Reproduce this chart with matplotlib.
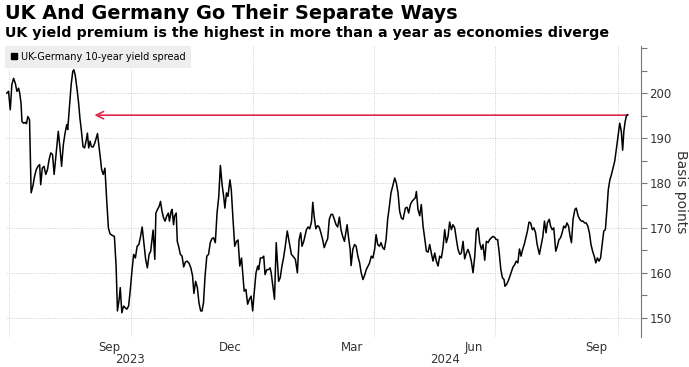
import pandas as pd
import matplotlib
matplotlib.use("Agg")
import matplotlib.pyplot as plt
from matplotlib.lines import Line2D
from matplotlib.ticker import MultipleLocator, FixedLocator

# UK-Germany 10-year yield spread
# day_offset = days since 2023-10-01, spread in basis points
day_offset = [
    -93.4, -92.1, -90.8, -89.6, -88.3, -87.0, -85.8, -84.5, -83.7, -82.7,
    -82.0, -80.7, -79.4, -78.6, -77.6, -76.3, -75.1, -73.8, -72.5, -71.2,
    -70.0, -68.7, -67.9, -66.7, -65.4, -64.1, -62.8, -61.6, -60.3, -59.0,
    -57.8, -56.5, -54.7, -53.4, -52.2, -50.9, -49.6, -48.3, -47.6, -46.3,
    -45.0, -43.8, -43.0, -42.0, -40.5, -39.4, -38.4, -37.4, -36.1, -34.9,
    -33.6, -32.8, -31.8, -30.8, -29.8, -28.5, -27.2, -26.0, -25.2, -24.2,
    -22.9, -22.1, -20.9, -19.6, -18.3, -17.0, -15.8, -14.5, -12.5, -11.2,
    -10.2, -8.9, -8.1, -6.9, -5.6, -4.3, -3.1, -1.8, -0.5, 0.8,
    2.0, 3.3, 4.6, 5.9, 7.2, 8.4, 9.7, 11.0, 12.3, 13.6,
    14.8, 16.6, 17.9, 18.7, 19.9, 21.2, 22.2, 23.3, 24.5, 25.6,
    26.8, 28.1, 28.9, 30.2, 30.9, 32.0, 32.7, 34.0, 34.8, 35.8,
    37.1, 38.4, 39.6, 40.9, 42.2, 43.7, 45.0, 46.3, 47.3, 48.6,
    49.9, 51.1, 52.4, 53.4, 54.5, 55.7, 57.0, 58.3, 59.6, 60.8,
    62.1, 63.4, 64.7, 66.0, 67.2, 68.5, 69.8, 70.6, 71.8, 72.9,
    74.4, 75.4, 76.7, 78.0, 79.3, 80.5, 81.8, 83.1, 84.4, 85.1,
    86.4, 87.7, 89.0, 90.3, 91.5, 92.3, 94.0, 95.3, 96.0, 97.3,
    98.6, 99.8, 100.8, 102.1, 103.4, 104.6, 105.4, 106.7, 107.9, 109.2,
    111.0, 112.2, 113.5, 114.7, 116.0, 117.5, 119.3, 120.6, 121.8, 123.6,
    125.1, 126.4, 127.6, 128.6, 129.9, 131.9, 133.2, 134.4, 135.7, 136.7,
    137.7, 139.0, 140.3, 141.5, 142.8, 144.1, 145.3, 146.6, 147.9, 149.1,
    150.4, 151.6, 152.9, 154.2, 155.4, 156.7, 157.9, 159.2, 160.5, 161.7,
    162.5, 163.5, 164.8, 165.5, 166.8, 168.1, 169.3, 170.6, 171.9, 173.1,
    174.4, 175.6, 176.9, 178.2, 179.4, 180.7, 181.9, 183.2, 184.3, 185.5,
    186.8, 188.0, 189.3, 190.5, 191.8, 193.0, 194.3, 195.5, 196.8, 198.3,
    199.5, 200.8, 202.0, 203.3, 204.6, 205.8, 206.3, 207.6, 208.8, 210.1,
    211.3, 212.6, 213.8, 214.6, 215.8, 217.1, 218.3, 219.6, 220.8, 222.1,
    223.4, 224.6, 225.9, 227.1, 228.4, 229.6, 230.9, 232.1, 233.4, 234.6,
    235.9, 237.1, 238.4, 239.6, 240.9, 242.1, 243.4, 244.7, 245.9, 247.2,
    248.4, 249.7, 250.9, 252.2, 253.4, 254.7, 255.9, 257.2, 258.5, 259.7,
    261.0, 262.2, 263.5, 264.7, 266.0, 267.2, 268.5, 269.7, 271.0, 272.2,
    273.5, 274.5, 275.7, 276.9, 278.1, 279.3, 280.5, 281.2, 282.4, 283.7,
    284.9, 286.1, 287.3, 288.5, 289.7, 290.9, 292.1, 293.3, 294.5, 295.7,
    296.9, 298.1, 299.3, 300.5, 301.8, 303.0, 304.2, 305.4, 307.1, 308.3,
    309.7, 310.9, 312.1, 313.1, 314.5, 315.5, 316.7, 317.9, 319.4, 320.6,
    321.8, 323.0, 324.2, 325.4, 326.6, 327.8, 329.0, 330.2, 331.2, 332.4,
    333.8, 334.8, 336.3, 337.5, 338.7, 339.9, 341.1, 342.3, 343.5, 344.7,
    345.9, 347.1, 348.3, 349.5, 350.7, 351.9, 353.1, 354.3, 355.5, 356.7,
    357.9, 358.9, 360.1, 361.3, 362.5, 363.7, 364.9, 366.2, 367.5, 368.7,
    369.7, 370.6, 371.6, 372.6, 373.5,
]
spread_bp = [
    200.0, 200.4, 196.3, 201.9, 203.3, 202.2, 200.4, 201.1, 200.0, 197.8,
    193.7, 193.3, 193.5, 193.2, 194.8, 194.1, 177.8, 179.3, 181.5, 183.0,
    183.7, 184.1, 179.6, 183.3, 183.7, 181.9, 183.0, 185.2, 186.7, 186.3,
    181.9, 185.9, 191.5, 187.8, 183.7, 188.5, 191.1, 193.0, 191.9, 197.0,
    201.9, 204.8, 205.2, 204.1, 200.7, 197.8, 194.4, 191.9, 188.1, 187.8,
    189.6, 191.1, 187.8, 189.3, 188.1, 188.0, 188.9, 190.2, 191.0, 188.5,
    185.2, 183.0, 181.9, 183.3, 176.3, 170.0, 168.7, 168.4, 168.1, 161.5,
    151.5, 154.1, 156.7, 151.1, 152.6, 152.2, 151.9, 152.6, 156.3, 160.7,
    164.1, 163.3, 165.9, 166.3, 168.1, 170.2, 166.7, 163.0, 161.1, 164.1,
    164.8, 169.5, 163.0, 173.3, 174.1, 174.8, 175.9, 173.7, 172.2, 171.5,
    172.6, 173.3, 171.5, 173.7, 174.1, 170.7, 172.6, 173.3, 167.0, 165.9,
    164.1, 163.7, 161.3, 162.4, 162.6, 162.1, 161.1, 159.3, 155.4, 158.1,
    156.7, 153.3, 151.5, 151.5, 153.3, 159.3, 163.7, 164.1, 166.7, 167.6,
    167.8, 166.7, 173.3, 177.0, 183.9, 179.6, 176.7, 174.4, 177.8, 177.0,
    180.7, 178.5, 171.9, 165.9, 167.0, 167.3, 161.5, 163.3, 158.5, 155.9,
    156.3, 153.0, 154.1, 154.8, 151.5, 154.4, 160.0, 161.5, 160.7, 163.3,
    163.3, 163.7, 159.6, 160.7, 160.7, 161.1, 160.0, 157.0, 154.1, 166.7,
    158.1, 158.9, 161.5, 163.3, 165.9, 169.3, 166.3, 164.1, 163.7, 163.0,
    160.0, 167.4, 168.9, 165.9, 167.0, 169.6, 170.2, 169.8, 171.3, 175.7,
    172.6, 169.8, 170.5, 170.2, 168.9, 167.4, 165.6, 166.7, 167.6, 171.9,
    173.0, 173.0, 171.9, 170.7, 170.2, 172.4, 169.6, 168.1, 167.0, 169.3,
    170.7, 168.1, 165.2, 161.6, 165.2, 166.3, 165.9, 163.7, 162.2, 160.0,
    158.5, 159.4, 160.7, 161.5, 162.2, 163.7, 163.3, 165.2, 168.5, 166.3,
    165.9, 166.7, 165.6, 165.2, 167.4, 171.9, 174.8, 177.8, 179.3, 181.1,
    180.0, 177.8, 173.7, 172.2, 171.9, 173.7, 174.4, 174.6, 173.3, 175.2,
    175.9, 176.3, 176.7, 178.1, 174.1, 172.7, 175.2, 170.4, 167.8, 164.8,
    164.6, 166.3, 164.3, 162.6, 164.4, 162.6, 161.5, 163.7, 163.3, 165.6,
    169.6, 166.7, 168.1, 171.3, 169.6, 170.7, 170.0, 167.4, 165.2, 164.1,
    164.4, 167.0, 163.1, 164.4, 165.2, 164.1, 162.6, 160.0, 163.7, 169.5,
    170.0, 166.7, 165.2, 166.3, 162.8, 167.0, 166.7, 167.4, 167.8, 168.1,
    167.9, 167.4, 167.4, 164.4, 160.7, 158.9, 158.5, 157.0, 157.4, 158.2,
    159.2, 160.3, 161.3, 161.8, 162.6, 162.2, 165.3, 163.7, 165.2, 166.3,
    167.8, 169.3, 171.3, 171.1, 169.6, 170.0, 168.9, 166.3, 164.1, 165.9,
    168.1, 171.5, 168.9, 171.1, 171.9, 170.4, 169.6, 170.0, 164.8, 165.9,
    167.4, 167.8, 168.9, 170.4, 170.0, 171.1, 170.4, 168.1, 166.7, 171.9,
    174.1, 174.4, 172.6, 171.9, 171.5, 171.5, 171.1, 171.1, 170.4, 168.9,
    166.3, 164.8, 163.7, 162.2, 163.3, 162.6, 163.3, 166.3, 169.3, 169.6,
    174.1, 178.5, 180.7, 181.9, 183.3, 184.8, 187.4, 190.4, 193.3, 191.5,
    187.3, 191.5, 193.7, 195.0, 195.2,
]

# arrow: highest level in more than a year
arrow_level = 195.1
arrow_tip_day = -27.5

y_labeled = [150, 160, 170, 180, 190, 200]
quarter_starts = ["2023-07-01", "2023-10-01", "2024-01-01", "2024-04-01",
                  "2024-07-01", "2024-10-01"]
month_ticks = ["2023-09-15", "2023-12-15", "2024-03-15", "2024-06-15", "2024-09-15"]
month_labels = ["Sep", "Dec", "Mar", "Jun", "Sep"]
year_ticks = ["2023-09-30", "2024-05-24"]
year_labels = ["2023", "2024"]

start = pd.Timestamp("2023-10-01")
dates = start + pd.to_timedelta(day_offset, unit="D")

W, H = 689, 367
fig = plt.figure(figsize=(W / 100, H / 100), dpi=100)
ax = fig.add_axes([6 / W, 1 - 337 / H, (641 - 6) / W, (337 - 46) / H])

ax.plot(dates, spread_bp, color="black", lw=1.1, zorder=3)

# red arrow pointing back to the previous high
ax.annotate("", xy=(start + pd.Timedelta(days=arrow_tip_day), arrow_level),
            xytext=(dates[-1], arrow_level),
            arrowprops=dict(arrowstyle="->", color="#e0284f", lw=1.2,
                            mutation_scale=13, shrinkA=0, shrinkB=0),
            zorder=2)

ax.set_xlim(start + pd.Timedelta(days=-94), start + pd.Timedelta(days=383.5))
ax.set_ylim(145.7, 210.5)

# y axis on the right
ax.yaxis.tick_right()
ax.yaxis.set_label_position("right")
ax.yaxis.set_major_locator(FixedLocator(y_labeled))
ax.yaxis.set_minor_locator(MultipleLocator(5))
ax.tick_params(axis="y", which="both", direction="out", length=4, width=0.8,
               colors="#777777", labelcolor="#333333", labelsize=8.5, pad=2)
ax.set_ylabel("Basis points", rotation=270, labelpad=12, fontsize=10, color="#333333")

# x axis: quarter gridlines, month labels mid-month
ax.set_xticks(pd.to_datetime(quarter_starts))
ax.set_xticklabels([])
ax.set_xticks(pd.to_datetime(month_ticks), minor=True)
ax.set_xticklabels(month_labels, minor=True)
ax.tick_params(axis="x", which="both", length=0, labelsize=8.5,
               labelcolor="#333333", pad=3)
for d, lab in zip(year_ticks, year_labels):
    ax.text(pd.Timestamp(d), -0.09, lab, transform=ax.get_xaxis_transform(),
            ha="center", va="baseline", fontsize=8.5, color="#333333")

ax.grid(True, which="major", color="#cccccc", lw=0.7, ls=(0, (1, 1.5)))
for s in ["top", "left", "bottom"]:
    ax.spines[s].set_visible(False)
ax.spines["right"].set_color("#777777")
ax.spines["right"].set_linewidth(0.8)

# legend box
handle = Line2D([], [], marker="s", color="black", linestyle="none", markersize=5)
leg = ax.legend([handle], ["UK-Germany 10-year yield spread"], loc="upper left",
                bbox_to_anchor=(5 / W, 1 - 46 / H), bbox_transform=fig.transFigure,
                borderaxespad=0, fontsize=7.0, frameon=True, fancybox=False,
                handlelength=0.7, handletextpad=0.3, borderpad=0.6)
leg.get_frame().set_facecolor("#eeeeee")
leg.get_frame().set_edgecolor("none")
leg.get_frame().set_alpha(1)

fig.text(5 / W, 1 - 4 / H, "UK And Germany Go Their Separate Ways",
         fontsize=13.9, fontweight="bold", va="top", ha="left")
fig.text(5 / W, 1 - 26 / H,
         "UK yield premium is the highest in more than a year as economies diverge",
         fontsize=10.3, fontweight="bold", va="top", ha="left")

fig.savefig("out.png", dpi=100)
